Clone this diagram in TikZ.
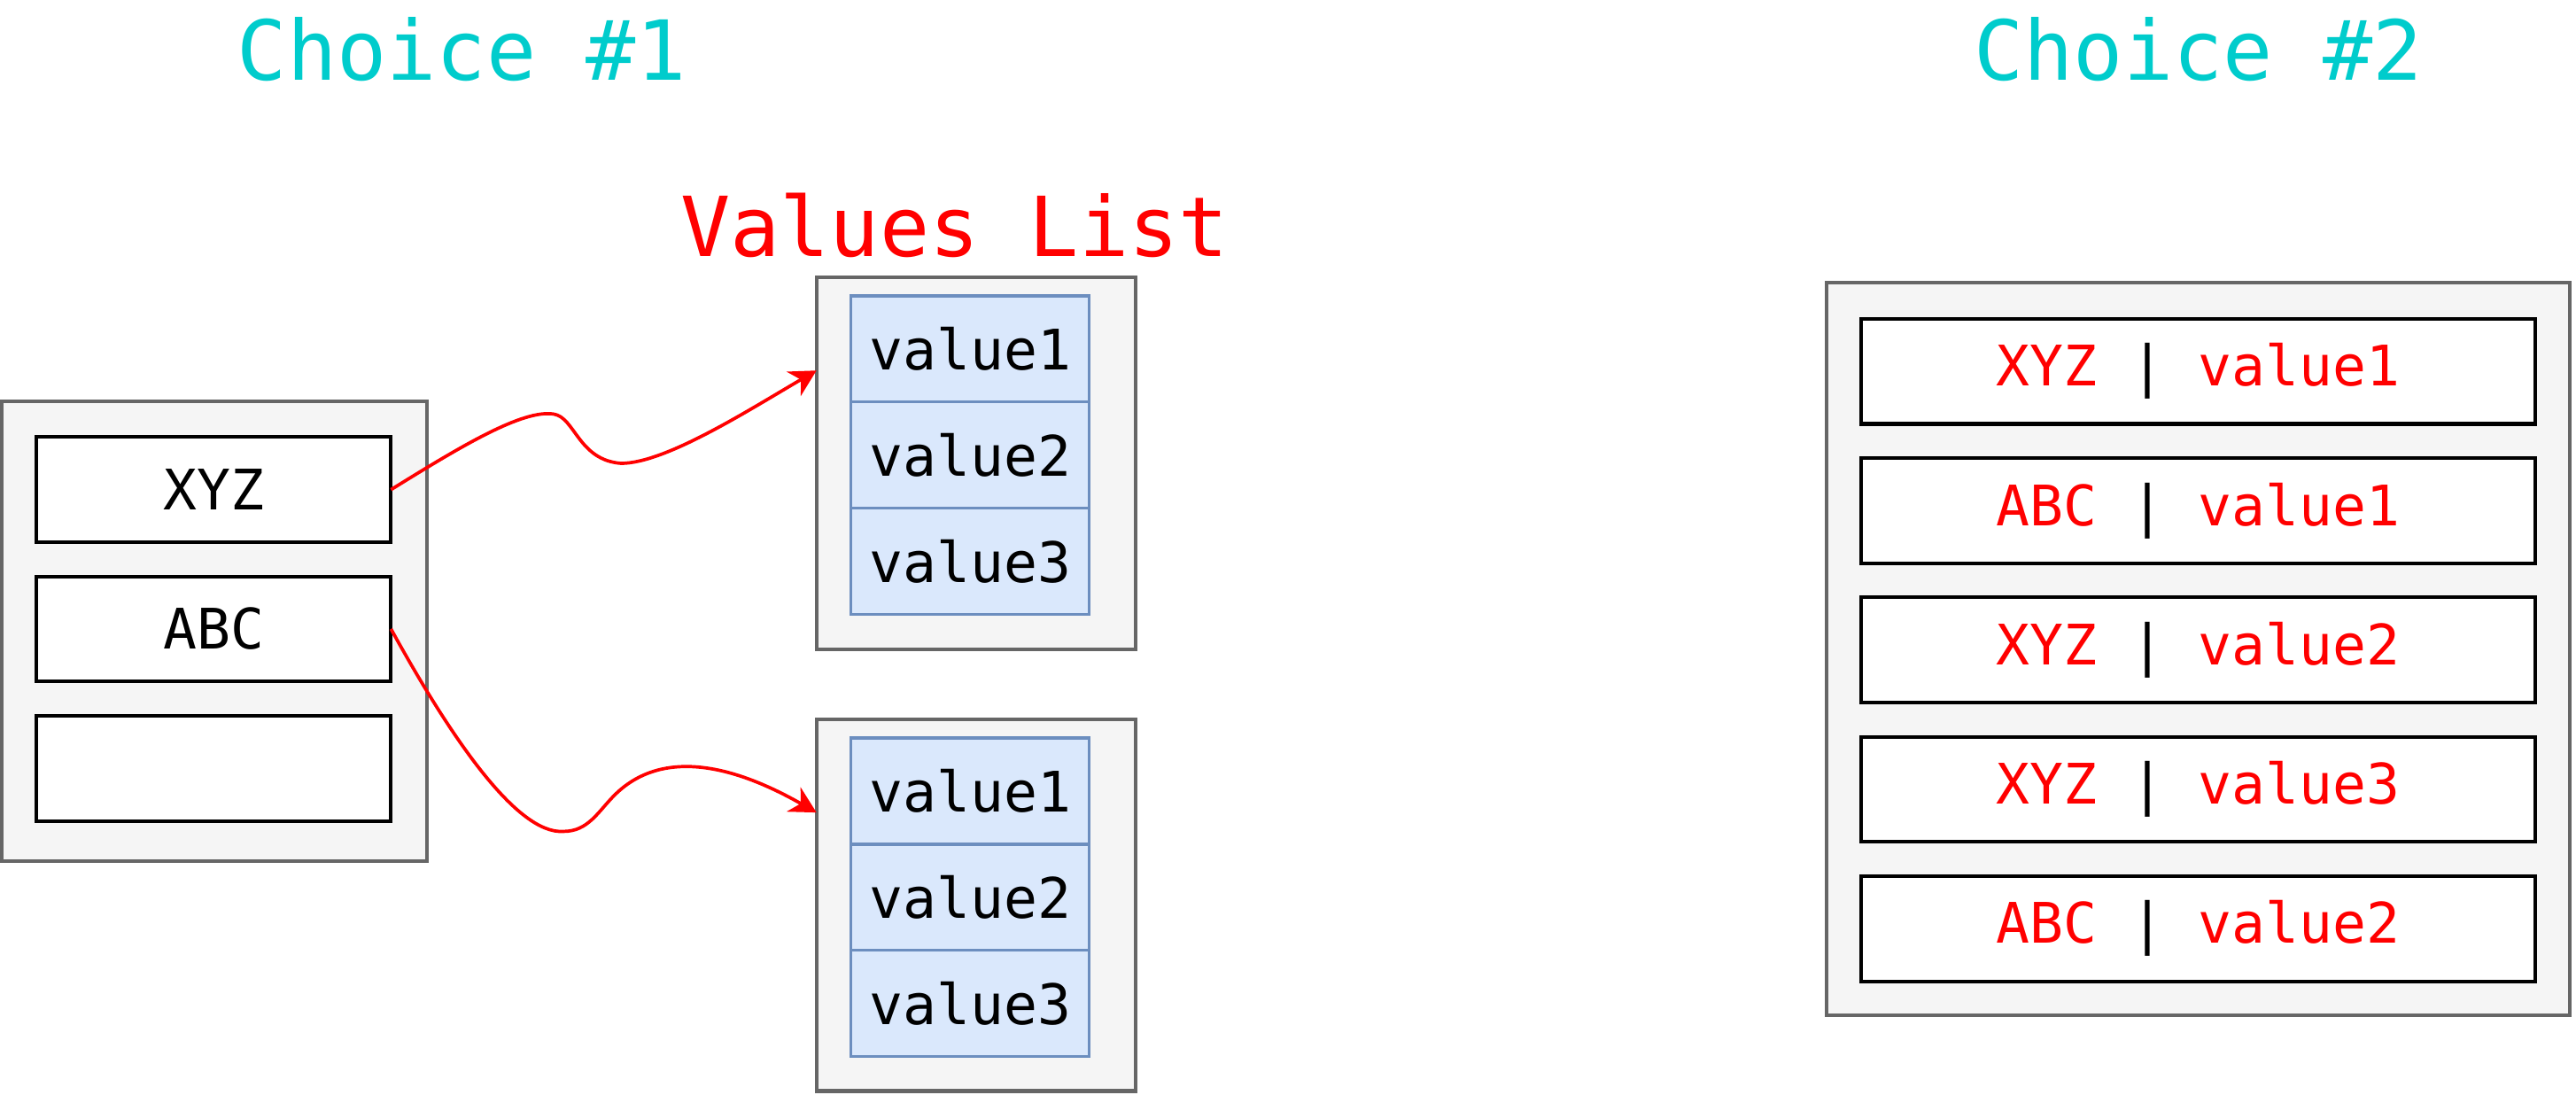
\documentclass[tikz,border=0pt]{standalone}
\usepackage{fontspec}
\setmonofont{DejaVu Sans Mono}
\usepackage{xcolor}
\usetikzlibrary{positioning,calc,arrows.meta}

\definecolor{choicecyan}{HTML}{00CCCC}
\definecolor{boxgray}{HTML}{F5F5F5}
\definecolor{edgegray}{HTML}{666666}
\definecolor{cellblue}{HTML}{DAE8FC}
\definecolor{celledge}{HTML}{6C8EBF}

\newcommand{\pairtext}[2]{\textcolor{red}{#1} | \textcolor{red}{#2}}

\begin{document}
\begin{tikzpicture}[x=0.5pt, y=-0.5pt, outer sep=0pt, node distance=10.4pt,
    container/.style={rectangle, draw=edgegray, fill=boxgray, line width=1.1pt},
    keybox/.style={rectangle, draw, fill=white, line width=1.1pt, minimum width=108pt, minimum height=32pt, font=\ttfamily\fontsize{17}{20}\selectfont},
    valcell/.style={rectangle, draw=celledge, fill=cellblue, line width=0.9pt, minimum width=72.5pt, minimum height=32.3pt, font=\ttfamily\fontsize{17}{20}\selectfont},
    pairbox/.style={rectangle, draw, fill=white, line width=1.1pt, minimum width=205pt, minimum height=32pt, font=\ttfamily\fontsize{17}{20}\selectfont},
    heading/.style={font=\ttfamily\fontsize{25.2}{30}\selectfont},
    link/.style={draw=red, line width=1pt, -{Stealth[length=8pt, width=8.5pt, inset=2.5pt]}}]
    \useasboundingbox (0,0) rectangle (1568,666.4);

    % titles
    \node[heading, text=choicecyan] (choice1) at (281,30) {Choice \#1};
    \node[heading, text=choicecyan] (choice2) at (1338,30) {Choice \#2};
    \node[heading, text=red] (listtitle) at (581,137) {Values List};

    % choice 1: keys
    \node[container, minimum width=129.5pt, minimum height=140pt] (keys) at (130.5,384) {};
    \node[keybox] (xyz) at (130,298) {XYZ};
    \node[keybox, below=of xyz] (abc) {ABC};
    \node[keybox, below=of abc] (blank) {};

    % choice 1: value lists
    \node[container, minimum width=97pt, minimum height=113pt] (vtop) at (594,282) {};
    \node[valcell] (vtopa) at (590.5,212.3) {value1};
    \node[valcell, below=0pt of vtopa] (vtopb) {value2};
    \node[valcell, below=0pt of vtopb] (vtopc) {value3};

    \node[container, minimum width=97pt, minimum height=113pt] (vbot) at (594,551) {};
    \node[valcell] (vbota) at (590.5,481.5) {value1};
    \node[valcell, below=0pt of vbota] (vbotb) {value2};
    \node[valcell, below=0pt of vbotb] (vbotc) {value3};

    \coordinate (vtopin) at ($(vtop.north west)!.25!(vtop.south west)$);
    \coordinate (vbotin) at ($(vbot.north west)!.25!(vbot.south west)$);

    \draw[link] (xyz.east) .. controls (280,272) and (318,249) .. (337,252)
        .. controls (350,254) and (352,280) .. (378,282)
        .. controls (405,282) and (455,250) .. (vtopin);
    \draw[link] (abc.east) .. controls (275,450) and (315,508) .. (343,506)
        .. controls (358,506) and (364,494) .. (374,484)
        .. controls (400,458) and (440,462) .. (vbotin);

    % choice 2: pairs
    \node[container, minimum width=226pt, minimum height=223pt] (pairs) at (1338,395) {};
    \node[pairbox] (pair1) at (1338,226) {\pairtext{XYZ}{value1}};
    \node[pairbox, below=of pair1] (pair2) {\pairtext{ABC}{value1}};
    \node[pairbox, below=of pair2] (pair3) {\pairtext{XYZ}{value2}};
    \node[pairbox, below=of pair3] (pair4) {\pairtext{XYZ}{value3}};
    \node[pairbox, below=of pair4] (pair5) {\pairtext{ABC}{value2}};
\end{tikzpicture}
\end{document}
